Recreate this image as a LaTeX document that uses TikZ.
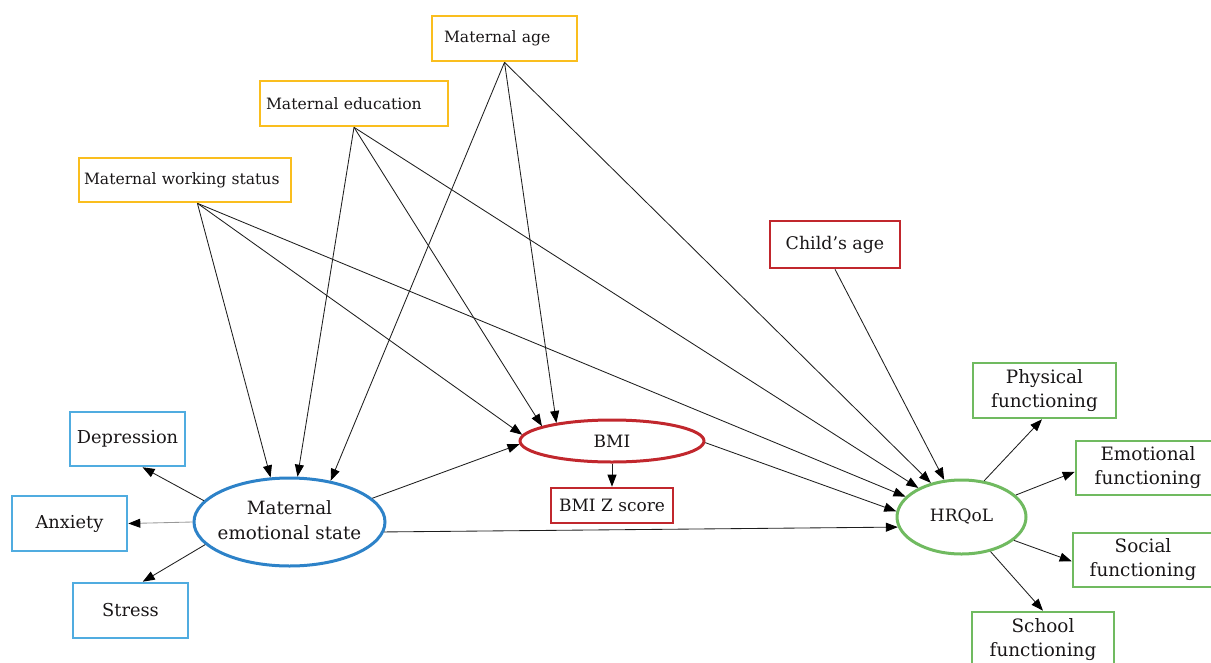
\documentclass[tikz,border=0pt]{standalone}
\usepackage{fontspec}
\setmainfont{DejaVu Serif}
\usetikzlibrary{shapes.geometric,arrows.meta}
\definecolor{myyellow}{RGB}{250,190,30}
\definecolor{lblue}{RGB}{80,172,224}
\definecolor{dblue}{RGB}{45,130,200}
\definecolor{myred}{RGB}{193,39,45}
\definecolor{mygreen}{RGB}{112,186,96}
\definecolor{txt}{RGB}{25,22,23}
\definecolor{linec}{RGB}{30,30,30}
\begin{document}
\begin{tikzpicture}[x=1pt,y=-1pt,
  box/.style={draw, rectangle, line width=2.6pt, inner sep=0pt, text=txt, align=center,
              font=\fontsize{17}{24}\selectfont},
  topbox/.style={box, draw=myyellow, align=left, font=\fontsize{15.6}{19}\selectfont},
  bluebox/.style={box, draw=lblue, font=\fontsize{17.8}{24}\selectfont},
  greenbox/.style={box, draw=mygreen, font=\fontsize{18.4}{24}\selectfont},
  ell/.style={draw, ellipse, line width=3pt, inner sep=0pt, text=txt, align=center,
              font=\fontsize{17}{24}\selectfont},
  conn/.style={draw=linec, line width=0.85pt, -{Triangle[length=12pt,width=9pt,color=black]}},
  conngray/.style={conn, draw=gray!80}
]
\useasboundingbox (0,0) rectangle (1211,662);

% top (yellow) boxes
\node[topbox, inner xsep=12pt, text width=121pt, minimum height=45pt] (mage) at (504.5,38.5) {\mbox{Maternal age}};
\node[topbox, inner xsep=6pt, text width=176pt, minimum height=45pt] (med) at (354,103.5) {\mbox{Maternal education}};
\node[topbox, inner xsep=5pt, text width=202pt, minimum height=44pt] (mws) at (185,180) {\mbox{Maternal working status}};

% child's age
\node[box, draw=myred, minimum width=130pt, minimum height=47pt, font=\fontsize{17.4}{24}\selectfont] (cage) at (835,244.5) {Child’s age};

% left (blue) boxes
\node[bluebox, minimum width=115pt, minimum height=54pt] (dep) at (127.5,439) {Depression};
\node[bluebox, minimum width=115pt, minimum height=55pt] (anx) at (69.5,523.5) {Anxiety};
\node[bluebox, minimum width=115pt, minimum height=55pt] (str) at (130.5,610.5) {Stress};

% ellipses
\node[ell, draw=dblue, minimum width=191pt, minimum height=88pt, font=\fontsize{18.3}{25}\selectfont] (mes) at (289.5,522)
  {\makebox[0pt]{\begin{tabular}{@{}c@{}}Maternal\\emotional state\end{tabular}}};
\node[ell, draw=myred, minimum width=184pt, minimum height=42pt] (bmi) at (612,441) {BMI};
\node[box, draw=myred, minimum width=122pt, minimum height=35pt] (bmiz) at (612,505.5) {BMI Z score};
\node[ell, draw=mygreen, minimum width=129pt, minimum height=74pt] (hrq) at (961.5,517) {HRQoL};

% right (green) boxes
\node[greenbox, minimum width=143pt, minimum height=55pt] (phys) at (1044.5,390.5) {Physical\\functioning};
\node[greenbox, minimum width=144pt, minimum height=54pt] (emo) at (1148,468) {Emotional\\functioning};
\node[greenbox, minimum width=140pt, minimum height=54pt] (soc) at (1143,560) {Social\\functioning};
\node[greenbox, minimum width=142pt, minimum height=55pt] (sch) at (1043,639.5) {School\\functioning};

% connectors from maternal covariates
\draw[conn] (mws.-62) -- (mes.113.4);
\draw[conn] (mws.-62) -- (bmi.176.3);
\draw[conn] (mws.-62) -- (hrq.160.5);
\draw[conn] (med.south) -- (mes.80.5);
\draw[conn] (med.south) -- (bmi.168.5);
\draw[conn] (med.south) -- (hrq.146);
\draw[conn] (mage.south) -- (mes.45.3);
\draw[conn] (mage.south) -- (bmi.162.3);
\draw[conn] (mage.south) -- (hrq.132);
\draw[conn] (cage.south) -- (hrq.115.4);

% structural paths
\draw[conn] (mes.16.2) -- (bmi.182.4);
\draw[conn] (mes.-6.6) -- (hrq.189);
\draw[conn] (bmi.-1.2) -- (hrq.175.6);
\draw[conn] (bmi.south) -- (bmiz.north);

% measurement: maternal emotional state
\draw[conn] (mes.166.4) -- (dep.-62);
\draw[conngray] (mes.180) -- (anx.east);
\draw[conn] (mes.195.8) -- (str.67.7);

% measurement: HRQoL
\draw[conn] (hrq.58) -- (phys.-95);
\draw[conn] (hrq.22.4) -- (emo.183);
\draw[conn] (hrq.-24.2) -- (soc.181);
\draw[conn] (hrq.-50.5) -- (sch.north);
\end{tikzpicture}
\end{document}
